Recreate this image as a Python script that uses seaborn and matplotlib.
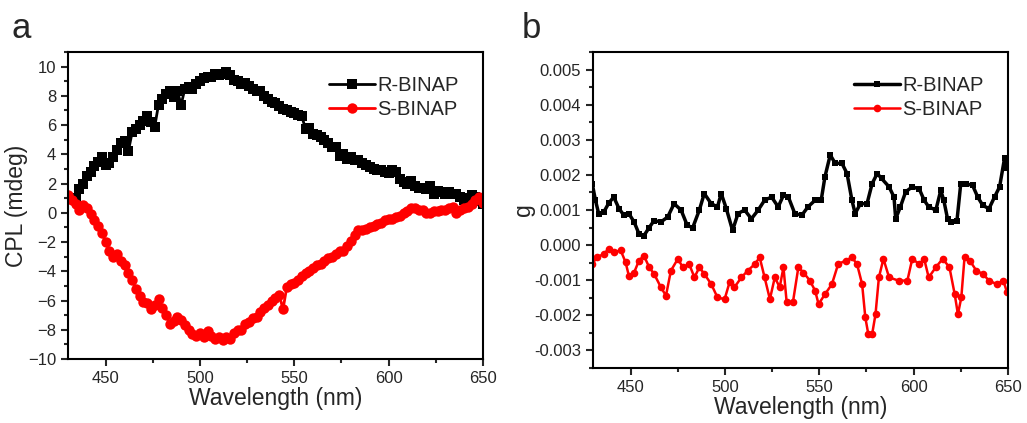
import numpy as np
import seaborn as sns
import matplotlib.pyplot as plt
from matplotlib.ticker import MultipleLocator


# panel a: CPL spectra (mdeg), 2 nm grid
WL_R_CPL = np.arange(434, 651, 2)
R_CPL = [1.0, 1.6, 2.0, 2.5, 2.8, 3.2, 3.5, 3.8, 3.3, 3.4,
         3.8, 4.3, 4.8, 4.9, 4.2, 5.5, 5.7, 6.0, 6.3, 6.6,
         6.2, 5.9, 7.4, 7.8, 8.1, 8.3, 7.9, 8.3, 7.4, 8.5,
         8.6, 8.5, 8.8, 9.0, 9.2, 9.3, 9.3, 9.5, 9.4, 9.5,
         9.6, 9.4, 9.1, 9.0, 8.8, 8.9, 8.7, 8.5, 8.3, 8.3,
         8.0, 7.8, 7.6, 7.5, 7.3, 7.1, 7.0, 6.9, 6.8, 6.7,
         6.6, 5.7, 5.8, 5.4, 5.3, 5.2, 5.0, 4.8, 4.5, 4.5,
         3.9, 4.0, 3.7, 3.8, 3.6, 3.6, 3.4, 3.3, 3.1, 3.0,
         2.9, 2.9, 2.8, 2.7, 2.9, 2.8, 2.3, 2.1, 2.0, 2.2,
         1.8, 1.7, 1.7, 1.6, 1.8, 1.3, 1.5, 1.4, 1.3, 1.4,
         1.3, 1.3, 1.1, 0.9, 1.0, 1.2, 1.1, 0.8, 0.6]

WL_S_CPL = np.arange(430, 651, 2)
S_CPL = [1.2, 0.9, 0.6, 0.2, 0.5, 0.3, -0.1, -0.5, -0.9, -1.4,
         -2.0, -2.6, -3.0, -2.8, -3.3, -3.6, -4.1, -4.6, -5.2, -5.7,
         -6.1, -6.2, -6.6, -6.3, -5.9, -6.5, -7.0, -7.6, -7.4, -7.1,
         -7.3, -7.7, -8.0, -8.3, -8.4, -8.2, -8.5, -8.1, -8.4, -8.6,
         -8.5, -8.7, -8.5, -8.6, -8.2, -8.0, -8.0, -7.6, -7.5, -7.2,
         -7.1, -6.8, -6.5, -6.3, -6.0, -5.8, -5.6, -6.6, -5.1, -4.9,
         -4.8, -4.6, -4.3, -4.1, -4.0, -3.8, -3.6, -3.5, -3.3, -3.1,
         -3.0, -2.8, -2.6, -2.6, -2.3, -1.9, -1.5, -1.2, -1.2, -1.1,
         -1.0, -0.9, -0.8, -0.7, -0.5, -0.4, -0.4, -0.3, -0.2, 0.0,
         0.1, 0.3, 0.3, 0.2, 0.2, 0.0, 0.0, 0.1, 0.1, 0.2,
         0.2, 0.3, 0.4, 0.0, 0.2, 0.3, 0.4, 0.6, 0.9, 1.1, 0.7]

# panel b: dissymmetry factor g (x 1e-3)
WL_R_G = [429.6, 431.3, 433.0, 435.8, 438.4, 441.0, 443.8, 446.4, 449.0, 451.8,
          454.4, 457.0, 459.8, 462.4, 466.0, 469.6, 473.0, 476.7, 480.0, 482.9,
          486.4, 489.0, 492.7, 496.0, 498.0, 500.7, 504.0, 506.9, 510.4, 514.0,
          517.6, 521.0, 524.7, 528.2, 531.0, 533.6, 537.0, 540.7, 544.0, 547.8,
          551.0, 553.0, 555.8, 558.4, 562.0, 564.7, 567.3, 569.0, 571.8, 575.3,
          578.0, 580.7, 583.0, 587.0, 589.6, 590.5, 593.0, 595.8, 599.3, 603.0,
          605.6, 608.0, 611.8, 614.4, 616.0, 618.0, 619.8, 623.0, 625.0, 627.8,
          631.3, 634.0, 636.7, 640.0, 642.9, 645.6, 648.2, 649.5]
R_G = [1.75, 1.28, 0.90, 0.95, 1.20, 1.37, 1.04, 0.85, 0.90, 0.66,
       0.32, 0.27, 0.50, 0.70, 0.66, 0.80, 1.18, 1.00, 0.56, 0.50,
       1.00, 1.47, 1.18, 1.09, 1.47, 1.04, 0.42, 0.90, 1.00, 0.75,
       1.00, 1.28, 1.37, 1.09, 1.42, 1.37, 0.90, 0.85, 1.09, 1.28,
       1.28, 1.95, 2.57, 2.33, 2.33, 2.04, 1.28, 0.90, 1.18, 1.18,
       1.75, 2.04, 1.90, 1.66, 1.37, 0.75, 1.09, 1.52, 1.66, 1.60,
       1.28, 1.09, 1.00, 1.56, 1.28, 0.75, 0.66, 0.70, 1.75, 1.75,
       1.70, 1.37, 1.13, 1.04, 1.37, 1.66, 2.47, 2.20]

WL_S_G = [429.6, 432.0, 435.8, 438.4, 441.0, 444.7, 447.3, 449.0, 451.8, 454.4,
          457.0, 459.8, 462.4, 466.0, 468.7, 471.3, 475.0, 477.6, 481.0, 483.8,
          486.4, 489.0, 492.7, 496.0, 499.8, 502.4, 505.0, 508.7, 512.0, 515.8,
          518.4, 521.0, 523.8, 526.4, 529.0, 531.0, 532.7, 536.0, 538.9, 541.6,
          545.0, 547.8, 549.6, 553.0, 556.7, 560.0, 564.0, 567.3, 570.0, 572.7,
          574.4, 576.0, 578.0, 579.8, 581.6, 584.0, 587.0, 592.0, 596.7, 599.3,
          603.0, 605.6, 608.0, 611.8, 615.4, 619.0, 621.8, 623.5, 625.3, 627.0,
          629.8, 633.3, 636.7, 640.0, 644.0, 647.6, 649.5]
S_G = [-0.54, -0.35, -0.25, -0.10, -0.20, -0.15, -0.49, -0.87, -0.78, -0.44,
       -0.30, -0.63, -0.82, -1.20, -1.44, -0.73, -0.39, -0.63, -0.54, -0.92,
       -0.63, -0.82, -1.11, -1.49, -1.54, -1.06, -1.20, -0.92, -0.73, -0.54,
       -0.35, -0.92, -1.54, -0.92, -1.20, -0.63, -1.63, -1.63, -0.63, -0.78,
       -1.01, -1.30, -1.68, -1.40, -1.11, -0.54, -0.44, -0.35, -0.54, -1.11,
       -2.06, -2.54, -2.54, -1.97, -0.92, -0.39, -0.92, -1.01, -1.01, -0.39,
       -0.54, -0.39, -0.92, -0.63, -0.39, -0.63, -1.40, -1.97, -1.49, -0.35,
       -0.44, -0.73, -0.82, -1.01, -1.11, -1.01, -1.34]

LABELS = ["R-BINAP", "S-BINAP"]
COLORS = ["black", "red"]


def style_axes(ax):
  for s in ax.spines.values():
    s.set_visible(True)
    s.set_linewidth(1.5)
    s.set_color("black")
  ax.tick_params(which="major", direction="out", length=5, width=1.5,
                 labelsize=12, top=False, right=False)
  ax.tick_params(which="minor", direction="out", length=3, width=1.5,
                 top=False, right=False)
  ax.set_xlim(430, 650)
  ax.xaxis.set_major_locator(MultipleLocator(50))
  ax.xaxis.set_minor_locator(MultipleLocator(25))
  ax.set_xlabel("Wavelength (nm)", fontsize=16.5, labelpad=1)
  ax.legend(loc="upper right", frameon=False, fontsize=14.5, handlelength=2.3,
            handletextpad=0.1, labelspacing=0.25, borderaxespad=0.8)


def main():
  sns.set_style("ticks")
  plt.rcParams["font.family"] = ["Liberation Sans", "DejaVu Sans"]

  fig = plt.figure(figsize=(10.27, 4.23), dpi=100)
  ax1 = fig.add_axes([0.0662, 0.1513, 0.404, 0.7258])
  ax2 = fig.add_axes([0.5774, 0.130, 0.404, 0.747])

  # CPL
  sns.lineplot(x=WL_R_CPL, y=R_CPL, ax=ax1, color=COLORS[0], marker="s",
               markersize=6.5, markeredgewidth=0, linewidth=2, label=LABELS[0])
  sns.lineplot(x=WL_S_CPL, y=S_CPL, ax=ax1, color=COLORS[1], marker="o",
               markersize=7.5, markeredgewidth=0, linewidth=2, label=LABELS[1])
  ax1.set_ylim(-10, 11)
  ax1.yaxis.set_major_locator(MultipleLocator(2))
  ax1.yaxis.set_minor_locator(MultipleLocator(1))
  ax1.set_ylabel("CPL (mdeg)", fontsize=16.5, labelpad=0)
  style_axes(ax1)

  # g factor
  sns.lineplot(x=WL_R_G, y=np.array(R_G) * 1e-3, ax=ax2, color=COLORS[0],
               marker="s", markersize=5, markeredgewidth=0, linewidth=2.5,
               label=LABELS[0])
  sns.lineplot(x=WL_S_G, y=np.array(S_G) * 1e-3, ax=ax2, color=COLORS[1],
               marker="o", markersize=5.5, markeredgewidth=0, linewidth=1.8,
               label=LABELS[1])
  ax2.set_ylim(-0.0035, 0.0055)
  ax2.yaxis.set_major_locator(MultipleLocator(0.001))
  ax2.yaxis.set_minor_locator(MultipleLocator(0.0005))
  ax2.yaxis.set_major_formatter(plt.FormatStrFormatter("%.3f"))
  ax2.set_ylabel("g", fontsize=16.5, labelpad=-1)
  style_axes(ax2)

  fig.text(0.011, 0.91, "a", fontsize=25)
  fig.text(0.508, 0.91, "b", fontsize=25)

  fig.savefig("out.png", dpi=100)


main()
